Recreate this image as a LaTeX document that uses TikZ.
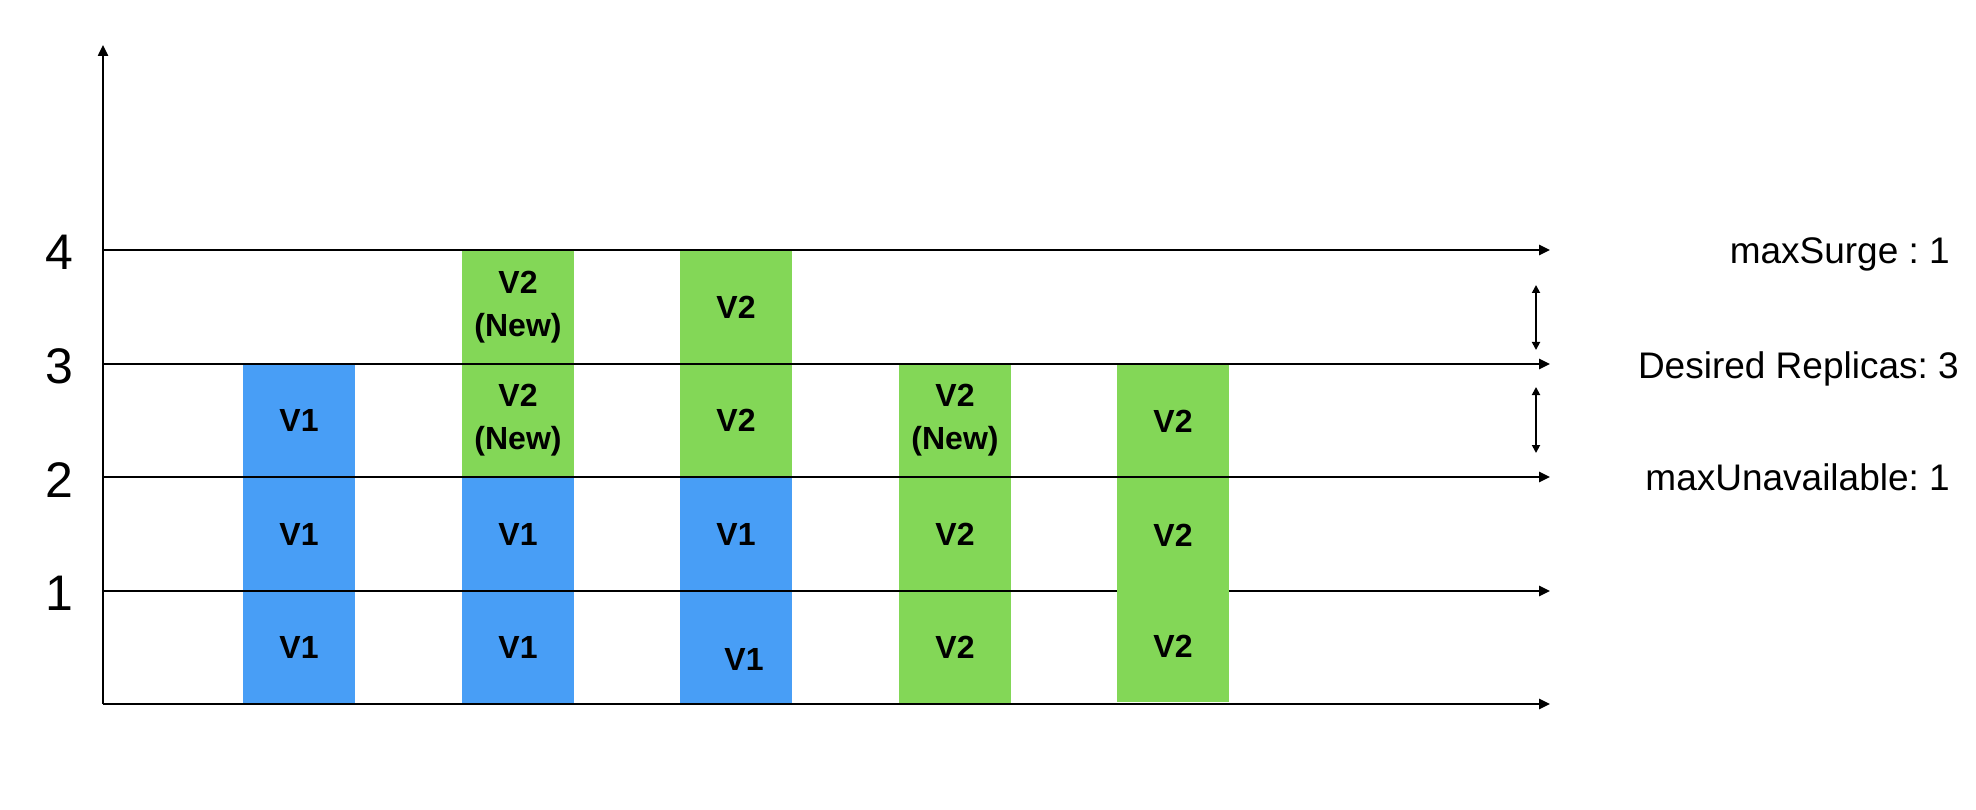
\documentclass[tikz,border=0pt]{standalone}
\usepackage{fontspec}
\setmainfont{Liberation Sans}
\usetikzlibrary{arrows.meta}
\definecolor{vone}{RGB}{72,158,246}
\definecolor{vtwo}{RGB}{131,215,87}
\frenchspacing
\begin{document}
\begin{tikzpicture}[x=1pt,y=-1pt,
  axisline/.style={line width=2.4pt,-{Triangle[length=11pt,width=10pt]}},
  plainline/.style={line width=2.4pt},
  gapline/.style={line width=1.8pt,{Triangle[length=8pt,width=8pt]}-{Triangle[length=8pt,width=8pt]}},
  cell/.style={rectangle,minimum width=112pt,minimum height=114pt,inner sep=0pt,
    font=\fontsize{32}{43}\selectfont\bfseries,align=center},
  blue/.style={cell,fill=vone},
  green/.style={cell,fill=vtwo},
  celltext/.style={inner sep=0pt,font=\fontsize{32}{43}\selectfont\bfseries},
  ticklab/.style={anchor=base,inner sep=0pt,font=\fontsize{50}{60}\selectfont},
  sidelab/.style={anchor=base east,inner sep=0pt,font=\fontsize{37}{44}\selectfont}]
\useasboundingbox (0,0) rectangle (1976,810);

% coordinates of the axis lines
\coordinate (ytop) at (103,45);
\foreach \n/\y in {0/704,1/591,2/477,3/364,4/250}{
  \coordinate (l\n) at (103,\y);
  \coordinate (r\n) at (1550,\y);
}

% column 1
\node[blue] (a0) at (299,647.5) {V1};
\node[blue] (a1) at (299,534) {V1};
\node[blue] (a2) at (299,420.5) {V1};
% column 2
\node[blue] (b0) at (518,647.5) {V1};
\node[blue] (b1) at (518,534) {V1};
\node[green] (b2) at (518,420.5) {V2\\(New)};
\node[green] (b3) at (518,307) {V2\\(New)};
% column 3
\node[blue] (c0) at (736,647.5) {};
\node[blue] (c1) at (736,534) {V1};
\node[green] (c2) at (736,420.5) {V2};
\node[green] (c3) at (736,307) {V2};
% column 4
\node[green] (d0) at (955,647.5) {V2};
\node[green] (d1) at (955,534) {V2};
\node[green] (d2) at (955,420.5) {V2\\(New)};
% column 5
\node[green,minimum height=115pt] (e2) at (1173,421) {V2};
\node[green,minimum height=114pt] (e1) at (1173,535) {V2};
\node[green,minimum height=112pt] (e0) at (1173,646) {V2};

% axes and level lines
\draw[axisline] (l0) -- (ytop);
\foreach \n in {0,2,3,4}{
  \draw[axisline] (l\n) -- (r\n);
}
% line 1 is hidden behind the last column
\coordinate (m1a) at (1117,591);
\coordinate (m1b) at (1229,591);
\draw[plainline] (l1) -- (m1a);
\draw[axisline] (m1b) -- (r1);

% offset label in column 3 bottom cell
\node[celltext] (c0t) at (744,659) {V1};

% tick labels
\node[ticklab] (t4) at (59,270) {4};
\node[ticklab] (t3) at (59,383) {3};
\node[ticklab] (t2) at (59,497) {2};
\node[ticklab] (t1) at (59,610) {1};

% right labels
\node[sidelab] (ms) at (1950,264) {maxSurge : 1};
\node[sidelab] (dr) at (1959,378) {Desired Replicas: 3};
\node[sidelab] (mu) at (1950,490) {maxUnavailable: 1};

% gap arrows
\coordinate (g1a) at (1536,285);
\coordinate (g1b) at (1536,350);
\coordinate (g2a) at (1536,387);
\coordinate (g2b) at (1536,453);
\draw[gapline] (g1a) -- (g1b);
\draw[gapline] (g2a) -- (g2b);
\end{tikzpicture}
\end{document}
